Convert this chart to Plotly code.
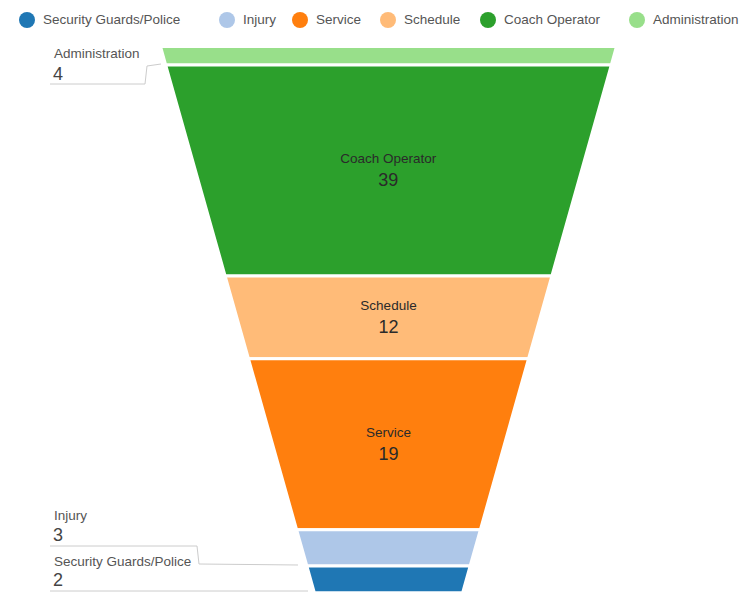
import plotly.graph_objects as go

W, H = 747, 593

# Data (top of funnel first)
categories = ["Administration", "Coach Operator", "Schedule", "Service", "Injury", "Security Guards/Police"]
values = [4, 39, 12, 19, 3, 2]
colors = ["#98df8a", "#2ca02c", "#ffbb78", "#ff7f0e", "#aec7e8", "#1f77b4"]
inside = [False, True, True, True, False, False]

# legend order (as in reference)
legend_order = ["Security Guards/Police", "Injury", "Service", "Schedule", "Coach Operator", "Administration"]
legend_circle_x = [27, 227, 300, 388, 488, 637]

FONT = "Liberation Sans, Arial, sans-serif"
TXT = "#444444"
SMALL = 13.5
BIG = 18

def px(x):
    return x / W

def py(y):
    return 1 - y / H

templates = [
    "<span style='font-size:%spx'>%%{label}</span><br>%%{value}" % SMALL if ins else ""
    for ins in inside
]

x0f, x1f, y0f, y1f = 160.5, 616.5, 46.5, 592.8
fig = go.Figure()
fig.add_trace(go.Funnelarea(
    labels=categories,
    values=values,
    marker=dict(colors=colors, line=dict(color="white", width=3)),
    texttemplate=templates,
    textposition="inside",
    insidetextfont=dict(family=FONT, color="#2a2a2a", size=BIG),
    domain=dict(x=[px(x0f), px(x1f)], y=[py(y1f), py(y0f)]),
    aspectratio=(y1f - y0f) / (x1f - x0f),
    baseratio=0.325,
    showlegend=False,
    hoverinfo="label+value",
))

shapes = []
annotations = []

# manual legend
lookup = dict(zip(categories, colors))
for name, cx in zip(legend_order, legend_circle_x):
    r = 8
    cy = 20
    shapes.append(dict(type="circle", xref="paper", yref="paper",
                       x0=px(cx - r), x1=px(cx + r), y0=py(cy + r), y1=py(cy - r),
                       fillcolor=lookup[name], line=dict(width=0)))
    annotations.append(dict(xref="paper", yref="paper", x=px(cx + 14), y=py(cy),
                            xanchor="left", yanchor="middle", showarrow=False,
                            text=name, font=dict(family=FONT, size=SMALL, color="#555555")))

# outside labels for the small segments
vals = dict(zip(categories, values))
outside = [
    ("Administration", 54, 74, "M {} {} L {} {} L {} {} L {} {}".format(px(50), py(84), px(145), py(84), px(147), py(66), px(161), py(64))),
    ("Injury", 515, 535, "M {} {} L {} {} L {} {} L {} {}".format(px(50), py(546), px(197), py(546), px(199), py(564), px(298), py(565))),
    ("Security Guards/Police", 561, 580, "M {} {} L {} {}".format(px(50), py(591), px(308), py(591))),
]
for name, y1, y2, path in outside:
    annotations.append(dict(xref="paper", yref="paper", x=px(52), y=py(y1), xanchor="left", yanchor="middle",
                            showarrow=False, text=name, font=dict(family=FONT, size=SMALL, color="#555555")))
    annotations.append(dict(xref="paper", yref="paper", x=px(51), y=py(y2), xanchor="left", yanchor="middle",
                            showarrow=False, text=str(vals[name]), font=dict(family=FONT, size=BIG, color=TXT)))
    shapes.append(dict(type="path", xref="paper", yref="paper", path=path,
                       line=dict(color="#cccccc", width=1)))

fig.update_layout(
    width=W, height=H,
    margin=dict(l=0, r=0, t=0, b=0),
    paper_bgcolor="white",
    plot_bgcolor="white",
    shapes=shapes,
    annotations=annotations,
    font=dict(family=FONT),
)

fig.write_html("out.html")
